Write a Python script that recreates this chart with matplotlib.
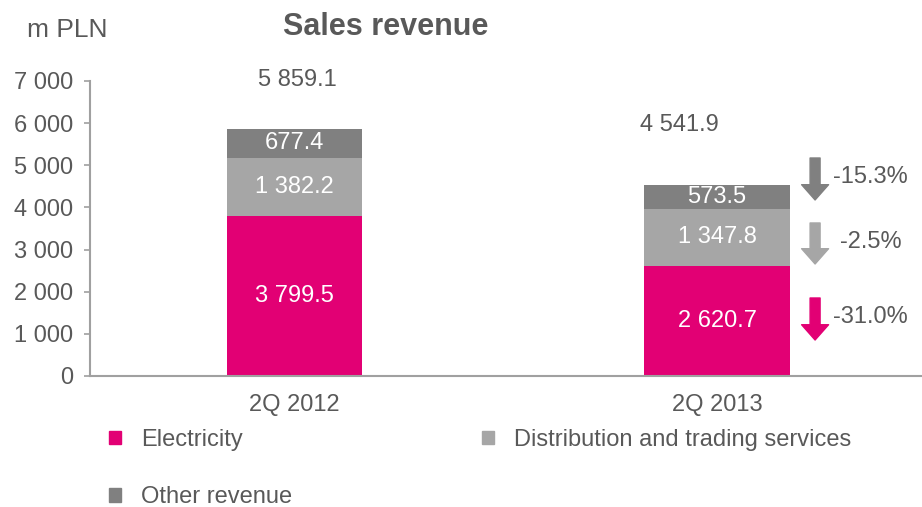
import matplotlib
matplotlib.use("Agg")
import matplotlib.pyplot as plt
from matplotlib.patches import Patch

plt.rcParams["font.family"] = ["Liberation Sans", "DejaVu Sans"]

# Quarterly sales revenue, m PLN
quarters = ["2Q 2012", "2Q 2013"]
segments = ["Electricity", "Distribution and trading services", "Other revenue"]
electricity = [3799.5, 2620.7]
distribution = [1382.2, 1347.8]
other = [677.4, 573.5]
totals = [5859.1, 4541.9]
yticks = [0, 1000, 2000, 3000, 4000, 5000, 6000, 7000]

MAGENTA = "#E20074"
LIGHT = "#A6A6A6"
DARK = "#808080"
TEXT = "#595959"
AXIS = "#A0A0A0"


def fmt(v, dec=1):
    return f"{v:,.{dec}f}".replace(",", " ")


def main():
    fig = plt.figure(figsize=(9.22, 5.07), dpi=100)
    ax = fig.add_axes([90 / 922, 131 / 507, 832 / 922, 295 / 507])

    x = [0, 1]
    widths = [0.32, 0.345]
    colors = [MAGENTA, LIGHT, DARK]
    series = [electricity, distribution, other]

    bottoms = [0.0, 0.0]
    for vals, col in zip(series, colors):
        ax.bar(x, vals, width=widths, bottom=bottoms, color=col,
               edgecolor="none", zorder=2)
        for i, v in enumerate(vals):
            ax.text(x[i], bottoms[i] + v / 2, fmt(v), ha="center",
                    va="center", color="white", fontsize=17, zorder=3)
        bottoms = [b + v for b, v in zip(bottoms, vals)]

    # totals above the stacks
    offsets = [(2, 35), (-27, 43)]
    for i, t in enumerate(totals):
        ax.annotate(fmt(t), xy=(x[i], bottoms[i]), xytext=offsets[i],
                    textcoords="offset points", ha="center", va="center",
                    fontsize=17, color=TEXT)

    # year-on-year change arrows next to the second bar
    arrow_y = [(1851, 854), (3631, 2658), (5173, 4177)]
    label_y = [1400, 3180, 4722]
    label_dx = [1.275, 1.29, 1.275]
    for k, (vals, col) in enumerate(zip(series, colors)):
        change = (vals[1] / vals[0] - 1) * 100
        top, tip = arrow_y[k]
        ax.annotate("", xy=(1.232, tip), xytext=(1.232, top),
                    arrowprops=dict(arrowstyle="simple,head_width=0.97,"
                                    "head_length=0.55,tail_width=0.36",
                                    color=col, shrinkA=0, shrinkB=0,
                                    mutation_scale=20),
                    annotation_clip=False)
        ax.text(label_dx[k], label_y[k], f"{change:.1f}%", ha="left",
                va="center", fontsize=17, color=TEXT)

    ax.set_xlim(-0.484, 1.485)
    ax.set_ylim(0, 7000)
    ax.set_yticks(yticks)
    ax.set_yticklabels([fmt(v, 0) for v in yticks])
    ax.set_xticks(x)
    ax.set_xticklabels(quarters)
    ax.tick_params(axis="y", length=4, width=1.2, color=AXIS, pad=8,
                   labelsize=17, labelcolor=TEXT)
    ax.tick_params(axis="x", length=0, pad=13, labelsize=17,
                   labelcolor=TEXT)
    for s in ["top", "right"]:
        ax.spines[s].set_visible(False)
    for s in ["left", "bottom"]:
        ax.spines[s].set_color(AXIS)
        ax.spines[s].set_linewidth(1.5)

    fig.text(27 / 922, 1 - 30 / 507, "m PLN", fontsize=19, color=TEXT,
             ha="left", va="center")
    fig.text(386 / 922, 1 - 27 / 507, "Sales revenue", fontsize=22,
             fontweight="bold", color=TEXT, ha="center", va="center")

    handles = [Patch(color=MAGENTA), Patch(color=DARK), Patch(color=LIGHT)]
    labels = [segments[0], segments[2], segments[1]]
    ax.legend(handles, labels, ncol=2, loc="upper left",
              bbox_to_anchor=(109 / 922, 1 - 429 / 507),
              bbox_transform=fig.transFigure, frameon=False, fontsize=17,
              labelcolor=TEXT, handlelength=0.5, handleheight=0.5,
              handletextpad=0.85, columnspacing=8.05, labelspacing=1.5,
              borderpad=0, borderaxespad=0)

    fig.savefig("out.png", dpi=100)


if __name__ == "__main__":
    main()
